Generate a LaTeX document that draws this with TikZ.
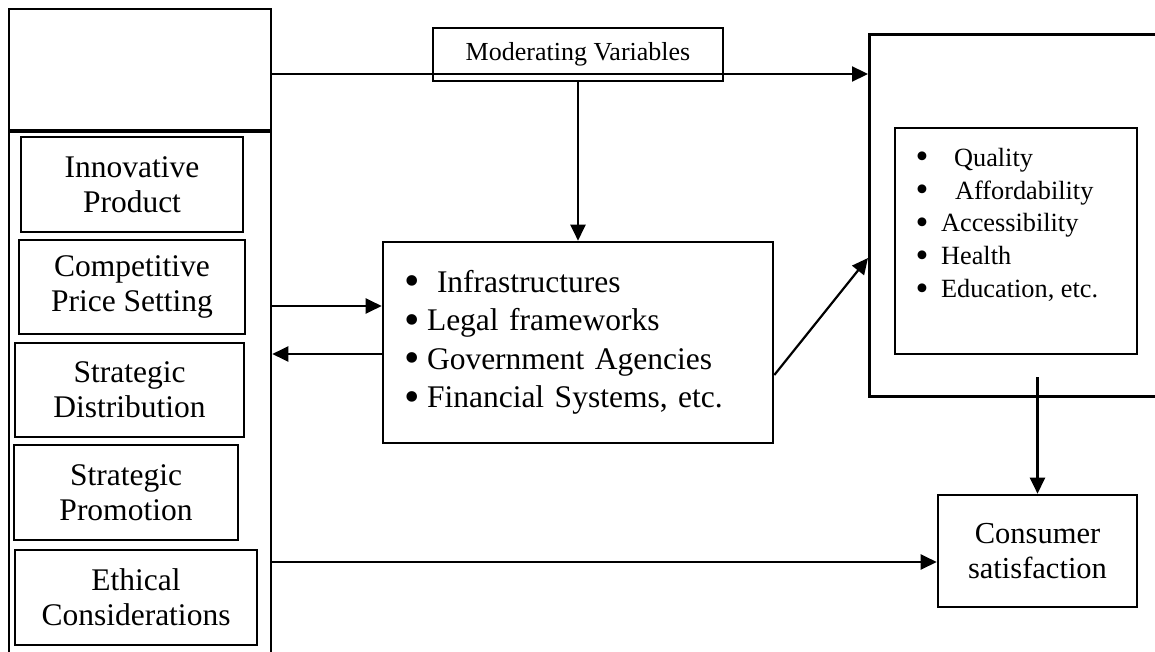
\documentclass[tikz,border=0pt]{standalone}
\usepackage{fontspec}
\setmainfont{Liberation Serif}
\usetikzlibrary{positioning,arrows.meta}
\newcommand{\listdot}[1]{\makebox[#1][l]{\hspace*{-1.5pt}\raisebox{-0.1em}{\scalebox{1.4}{\textbullet}}}}

\begin{document}
\begin{tikzpicture}[%
		x=1pt,
		y=-1pt,
		->,
		>={Triangle[length=16pt,width=15pt]},
		line width=2.2pt,
		cell/.style={%
			draw,
			line width=2.6pt,
			inner sep=0pt,
			align=center,
			font=\fontsize{31.5pt}{35pt}\selectfont
		},
		listbox/.style={%
			draw,
			line width=2.6pt,
			inner xsep=23pt,
			inner ysep=0pt,
			align=left
		}
		]
		\useasboundingbox (0,0) rectangle (1155,652);
		
		% left column
		\node[cell, minimum width=262pt, minimum height=121pt] (header) at (140,69.5) {};
		\node[cell, minimum width=262pt, minimum height=540pt, anchor=north] (mix) at (140,130) {};
		\node[cell, minimum width=222pt, minimum height=95pt] (product)   at (132,184.5) {Innovative\\Product};
		\node[cell, minimum width=226pt, minimum height=94pt] (price)     at (132,287)   {Competitive\\Price Setting};
		\node[cell, minimum width=229pt, minimum height=94pt] (place)     at (129.5,390) {Strategic\\Distribution};
		\node[cell, minimum width=224pt, minimum height=95pt] (promotion) at (126,492.5) {Strategic\\Promotion};
		\node[cell, minimum width=242pt, minimum height=95pt] (ethics)    at (136,597.5) {Ethical\\Considerations};
		
		% middle
		\node[cell, font=\fontsize{26pt}{30pt}\selectfont, minimum width=290pt, minimum height=53pt] (moderator) at (578,54.5) {Moderating Variables};
		\node[listbox, minimum height=201pt, text width=344pt, font=\fontsize{31.5pt}{38.5pt}\selectfont] (factors) at (578,342.5)
		{\listdot{21pt}\hspace{10pt}Infrastructures\\
		 \listdot{21pt}Legal frameworks\\
		 \listdot{21pt}Government Agencies\\
		 \listdot{21pt}Financial Systems, etc.\\[4pt]};
		
		% right
		\node[cell, minimum width=320pt, minimum height=362pt, anchor=north west] (outcome) at (868,33) {};
		\node[cell, minimum width=242pt, minimum height=226pt] (benefits) at (1016,241) {};
		\node[anchor=north west, inner sep=0pt, align=left, font=\fontsize{26.3pt}{32.8pt}\selectfont] (benefitlist) at (916,147)
		{\listdot{24pt}\hspace{13pt}Quality\\
		 \listdot{24pt}\hspace{14pt}Affordability\\
		 \listdot{24pt}Accessibility\\
		 \listdot{24pt}Health\\
		 \listdot{24pt}Education, etc.};
		\node[cell, font=\fontsize{30.5pt}{35pt}\selectfont, minimum width=199pt, minimum height=112pt] (satisfaction) at (1037.5,551) {Consumer\\satisfaction};
		
		\coordinate (toprow)    at (0,74);
		\coordinate (pricerow)  at (0,306);
		\coordinate (backrow)   at (0,354);
		\coordinate (linkstart) at (0,375);
		\coordinate (linkend)   at (0,258);
		\coordinate (dropstart) at (0,377);
		\coordinate (ethicrow)  at (0,562);
		
		\draw (header.east |- toprow) -- (outcome.west |- toprow);
		\draw (moderator.south) -- (factors.north);
		\draw (mix.east |- pricerow) -- (factors.west |- pricerow);
		\draw (factors.west |- backrow) -- (mix.east |- backrow);
		\draw (factors.east |- linkstart) -- (outcome.west |- linkend);
		\draw (satisfaction.north |- dropstart) -- (satisfaction.north);
		\draw (mix.east |- ethicrow) -- (satisfaction.west |- ethicrow);
\end{tikzpicture}
\end{document}
